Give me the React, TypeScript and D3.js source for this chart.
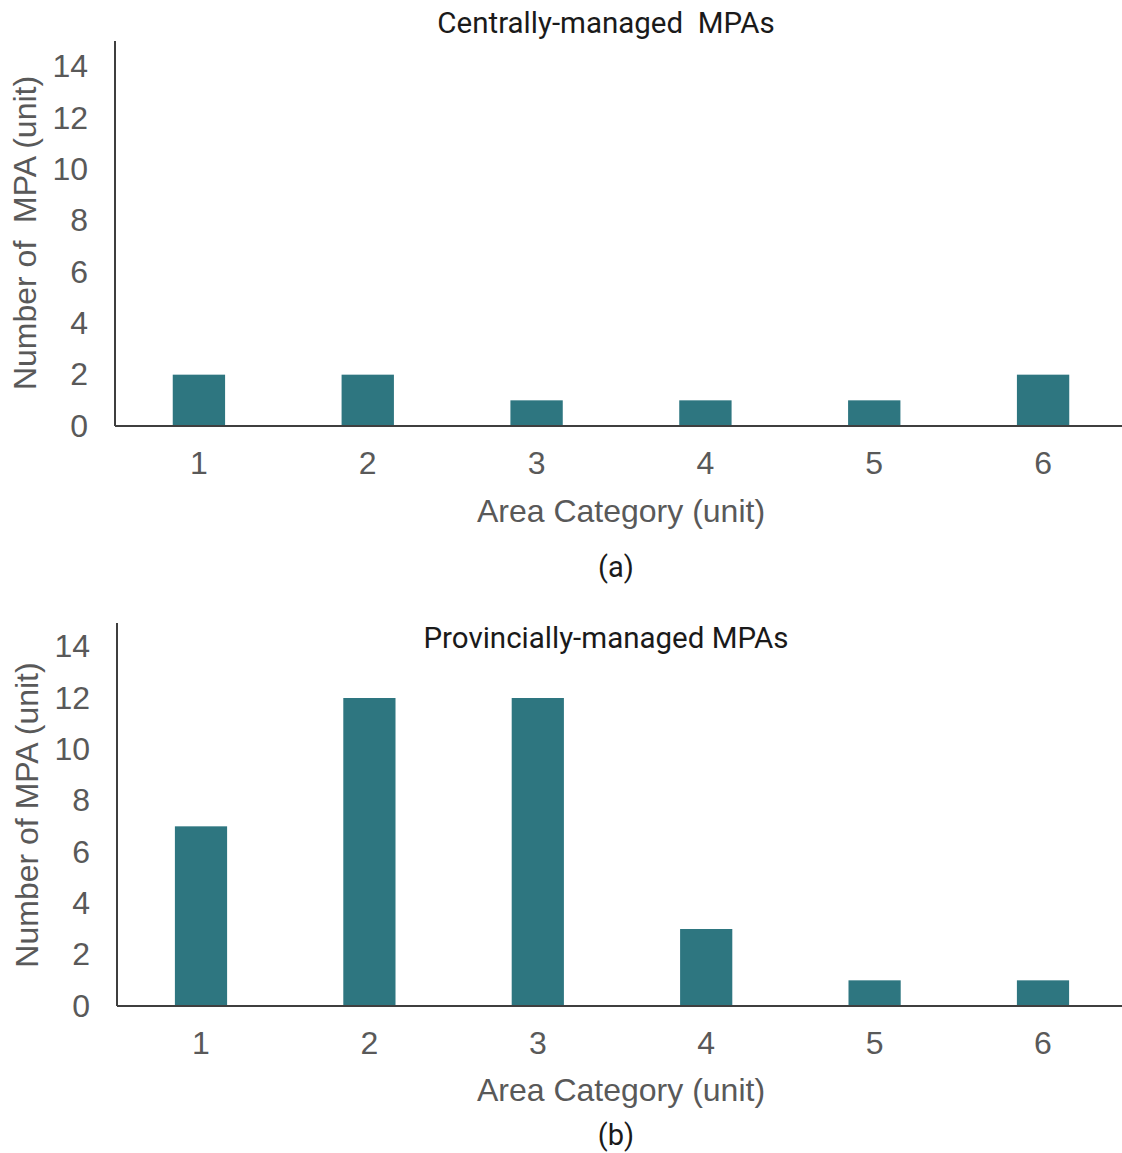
import React, { useEffect, useRef } from "react";
import * as d3 from "d3";

const categories = ["1", "2", "3", "4", "5", "6"];
const centralCounts = [2, 2, 1, 1, 1, 2];
const provincialCounts = [7, 12, 12, 3, 1, 1];
const yTicks = [0, 2, 4, 6, 8, 10, 12, 14];

const BAR = "#2e7680";
const AXIS = "#3f3f3f";
const TICK = "#595959";
const SANS = "'Liberation Sans', Arial, sans-serif";
const TITLE_FONT = "Roboto, 'Noto Sans', sans-serif";

const panels = [
  {
    values: centralCounts,
    title: "Centrally-managed  MPAs",
    yLabel: "Number of  MPA (unit)",
    tag: "(a)",
    axisX: 115, base: 426, top: 41, x0: 114.5, x1: 1127.5,
    titleY: 33, yLabelX: 36, yLabelY: 233, xLabelY: 522, tagY: 577,
  },
  {
    values: provincialCounts,
    title: "Provincially-managed MPAs",
    yLabel: "Number of MPA (unit)",
    tag: "(b)",
    axisX: 117, base: 1006, top: 623, x0: 116.8, x1: 1127.2,
    titleY: 648, yLabelX: 38, yLabelY: 815, xLabelY: 1101, tagY: 1145,
  },
];

export default function App() {
  const ref = useRef<SVGSVGElement>(null);

  useEffect(() => {
    const svg = d3.select(ref.current);
    svg.selectAll("*").remove();

    panels.forEach((p) => {
      const g = svg.append("g");
      const x = d3.scaleBand().domain(categories).range([p.x0, p.x1]).paddingInner(0.69).paddingOuter(0.345);
      const y = d3.scaleLinear().domain([0, 15]).range([p.base, p.base - 385]);

      // bars
      g.selectAll("rect")
        .data(p.values)
        .enter()
        .append("rect")
        .attr("x", (d, i) => x(categories[i])!)
        .attr("y", (d) => y(d))
        .attr("width", x.bandwidth())
        .attr("height", (d) => y(0) - y(d))
        .attr("fill", BAR);

      // y axis
      const ya = g.append("g")
        .attr("transform", `translate(${p.axisX},0)`)
        .call(d3.axisLeft(y).tickValues(yTicks).tickSize(0).tickPadding(27));
      ya.select(".domain").remove();
      ya.selectAll("text").attr("font-size", 32).attr("font-family", SANS).attr("fill", TICK);

      // x axis
      const xa = g.append("g")
        .attr("transform", `translate(0,${p.base})`)
        .call(d3.axisBottom(x).tickSize(0).tickPadding(25));
      xa.select(".domain").remove();
      xa.selectAll("text").attr("font-size", 32).attr("font-family", SANS).attr("fill", TICK);

      g.append("line")
        .attr("x1", p.axisX).attr("x2", 1122)
        .attr("y1", p.base).attr("y2", p.base)
        .attr("stroke", AXIS).attr("stroke-width", 2);
      g.append("line")
        .attr("x1", p.axisX).attr("x2", p.axisX)
        .attr("y1", p.top).attr("y2", p.base)
        .attr("stroke", AXIS).attr("stroke-width", 2);

      g.append("text")
        .attr("x", 606).attr("y", p.titleY)
        .attr("text-anchor", "middle")
        .style("white-space", "pre")
        .attr("font-family", TITLE_FONT).attr("font-size", 29.5).attr("fill", "#1a1a1a")
        .text(p.title);

      g.append("text")
        .attr("transform", `translate(${p.yLabelX},${p.yLabelY}) rotate(-90)`)
        .attr("text-anchor", "middle")
        .style("white-space", "pre")
        .attr("font-family", SANS).attr("font-size", 32).attr("fill", TICK)
        .text(p.yLabel);

      g.append("text")
        .attr("x", 621).attr("y", p.xLabelY)
        .attr("text-anchor", "middle")
        .attr("font-family", SANS).attr("font-size", 32).attr("fill", TICK)
        .text("Area Category (unit)");

      g.append("text")
        .attr("x", 616).attr("y", p.tagY)
        .attr("text-anchor", "middle")
        .attr("font-family", TITLE_FONT).attr("font-size", 29).attr("fill", "#1a1a1a")
        .text(p.tag);
    });
  }, []);

  return (
    <svg
      ref={ref}
      width={1122}
      height={1153}
      style={{ position: "absolute", left: 0, top: 0, background: "#fff" }}
    />
  );
}
